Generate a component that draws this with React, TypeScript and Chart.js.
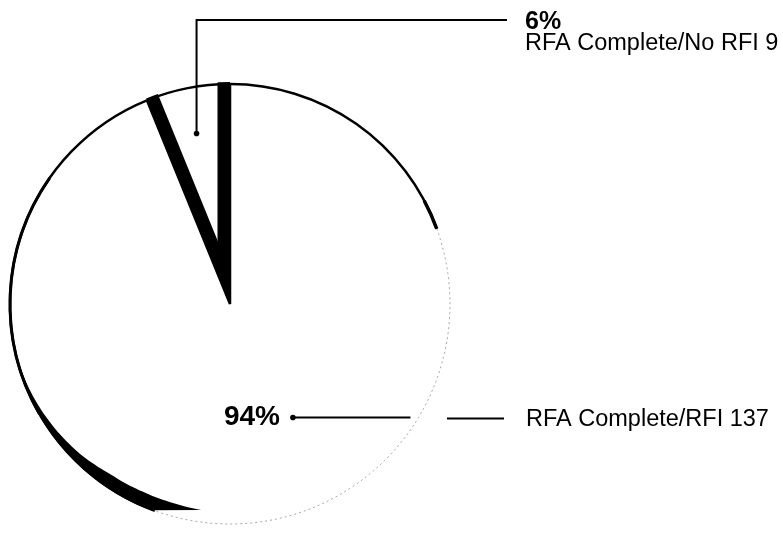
import React, { useEffect, useRef } from 'react';
import { Chart, registerables } from 'chart.js';

Chart.register(...registerables);

// ---- data ----
const categories = ['RFA Complete/RFI', 'RFA Complete/No RFI'];
const counts = [137, 9];
const percentLabels = ['94%', '6%'];

const FONT = '"Liberation Sans", Arial, Helvetica, sans-serif';
const deg = (d: number) => (d * Math.PI) / 180;

const decorPlugin = {
  id: 'decor',
  afterDatasetsDraw(chart: any) {
    const ctx: CanvasRenderingContext2D = chart.ctx;
    const meta = chart.getDatasetMeta(0);
    const big: any = meta.data[0];
    const small: any = meta.data[1];
    const cx = big.x;
    const cy = big.y;
    const R = big.outerRadius;

    ctx.save();

    // 3D side faces of the small slice (black bands along its radial edges)
    ctx.save();
    ctx.beginPath();
    ctx.moveTo(small.x, small.y);
    ctx.arc(small.x, small.y, small.outerRadius + 2, small.startAngle, small.endAngle);
    ctx.closePath();
    ctx.clip();
    ctx.strokeStyle = '#000';
    ctx.lineWidth = 25;
    ctx.lineCap = 'butt';
    for (const a of [small.startAngle, small.endAngle]) {
      ctx.beginPath();
      ctx.moveTo(small.x, small.y);
      ctx.lineTo(small.x + (R + 6) * Math.cos(a), small.y + (R + 6) * Math.sin(a));
      ctx.stroke();
    }
    ctx.restore();

    // outline of the large slice: solid part
    ctx.strokeStyle = '#000';
    ctx.lineWidth = 2.5;
    ctx.beginPath();
    ctx.arc(cx, cy, R, deg(110), big.endAngle);
    ctx.stroke();
    ctx.beginPath();
    ctx.arc(cx, cy, R, big.startAngle, deg(-20));
    ctx.stroke();
    ctx.lineWidth = 3.5;
    ctx.beginPath();
    ctx.arc(cx, cy, R, deg(-28), deg(-20));
    ctx.stroke();
    // slightly heavier left edge
    ctx.lineWidth = 3;
    ctx.beginPath();
    ctx.arc(cx, cy, R, deg(150), deg(215));
    ctx.stroke();

    // faded part of the outline
    ctx.strokeStyle = 'rgba(0,0,0,0.35)';
    ctx.lineWidth = 1;
    ctx.setLineDash([2, 3]);
    ctx.beginPath();
    ctx.arc(cx, cy, R, deg(-20), deg(110));
    ctx.stroke();
    ctx.setLineDash([]);

    // crescent shadow at lower left
    const widths: [number, number][] = [
      [98, 12], [105, 13], [115, 13], [125, 12], [135, 8], [145, 5], [155, 2.5], [165, 0.5],
    ];
    const wAt = (a: number) => {
      for (let i = 0; i < widths.length - 1; i++) {
        const [a0, w0] = widths[i];
        const [a1, w1] = widths[i + 1];
        if (a >= a0 && a <= a1) return w0 + ((w1 - w0) * (a - a0)) / (a1 - a0);
      }
      return 0;
    };
    ctx.fillStyle = '#000';
    ctx.beginPath();
    ctx.arc(cx, cy, R + 1, deg(165), deg(111), true);
    ctx.lineTo(cx + (R - 12) * Math.cos(deg(98)), cy + (R - 12) * Math.sin(deg(98)));
    for (let a = 98; a <= 165; a += 1) {
      const r = R - wAt(a);
      ctx.lineTo(cx + r * Math.cos(deg(a)), cy + r * Math.sin(deg(a)));
    }
    ctx.closePath();
    ctx.fill();

    // ---- leader lines & labels ----
    ctx.strokeStyle = '#000';
    ctx.fillStyle = '#000';
    ctx.lineWidth = 2;

    // small slice
    const midS = (small.startAngle + small.endAngle) / 2;
    const ax = small.x + 0.79 * R * Math.cos(midS);
    const ay = small.y + 0.79 * R * Math.sin(midS);
    ctx.beginPath();
    ctx.arc(ax, ay, 2.8, 0, Math.PI * 2);
    ctx.fill();
    const topY = 20;
    const lineEndX = 507;
    ctx.beginPath();
    ctx.moveTo(ax, ay);
    ctx.lineTo(ax, topY);
    ctx.lineTo(lineEndX, topY);
    ctx.stroke();
    ctx.textAlign = 'left';
    ctx.textBaseline = 'alphabetic';
    ctx.font = `bold 25px ${FONT}`;
    ctx.fillText(percentLabels[1], 525, 29);
    ctx.font = `23.5px ${FONT}`;
    ctx.fillText(`${categories[1]} ${counts[1]}`, 525, 50);

    // large slice
    const bx = cx + 0.59 * R * Math.cos(deg(61));
    const by = cy + 0.59 * R * Math.sin(deg(61));
    ctx.beginPath();
    ctx.arc(bx, by, 2.8, 0, Math.PI * 2);
    ctx.fill();
    const edgeX = cx + Math.sqrt(Math.max(R * R - (by - cy) * (by - cy), 0)) - 8;
    ctx.beginPath();
    ctx.moveTo(bx, by);
    ctx.lineTo(edgeX, by);
    ctx.stroke();
    ctx.beginPath();
    ctx.moveTo(cx + R - 3, by + 1);
    ctx.lineTo(504, by + 1);
    ctx.stroke();
    ctx.textBaseline = 'middle';
    ctx.font = `bold 28px ${FONT}`;
    ctx.textAlign = 'right';
    ctx.fillText(percentLabels[0], bx - 13, by);
    ctx.font = `23.5px ${FONT}`;
    ctx.textAlign = 'left';
    ctx.fillText(`${categories[0]} ${counts[0]}`, 526, by + 2);

    ctx.restore();
  },
};

export default function App() {
  const ref = useRef<HTMLCanvasElement | null>(null);
  useEffect(() => {
    if (!ref.current) return;
    const chart = new Chart(ref.current, {
      type: 'pie',
      data: {
        labels: categories,
        datasets: [
          {
            data: counts,
            backgroundColor: ['#ffffff', '#ffffff'],
            borderColor: ['#000000', '#000000'],
            borderWidth: [0, 2.5],
            radius: 220,
          } as any,
        ],
      },
      options: {
        responsive: false,
        animation: false,
        events: [],
        layout: { padding: { left: 10, top: 84, right: 333, bottom: 23 } },
        plugins: {
          legend: { display: false },
          tooltip: { enabled: false },
          title: { display: false },
        },
      },
      plugins: [decorPlugin],
    });
    return () => chart.destroy();
  }, []);
  return (
    <div style={{ position: 'fixed', left: 0, top: 0, width: 783, height: 547, background: '#fff' }}>
      <canvas ref={ref} width={783} height={547} style={{ display: 'block' }} />
    </div>
  );
}
